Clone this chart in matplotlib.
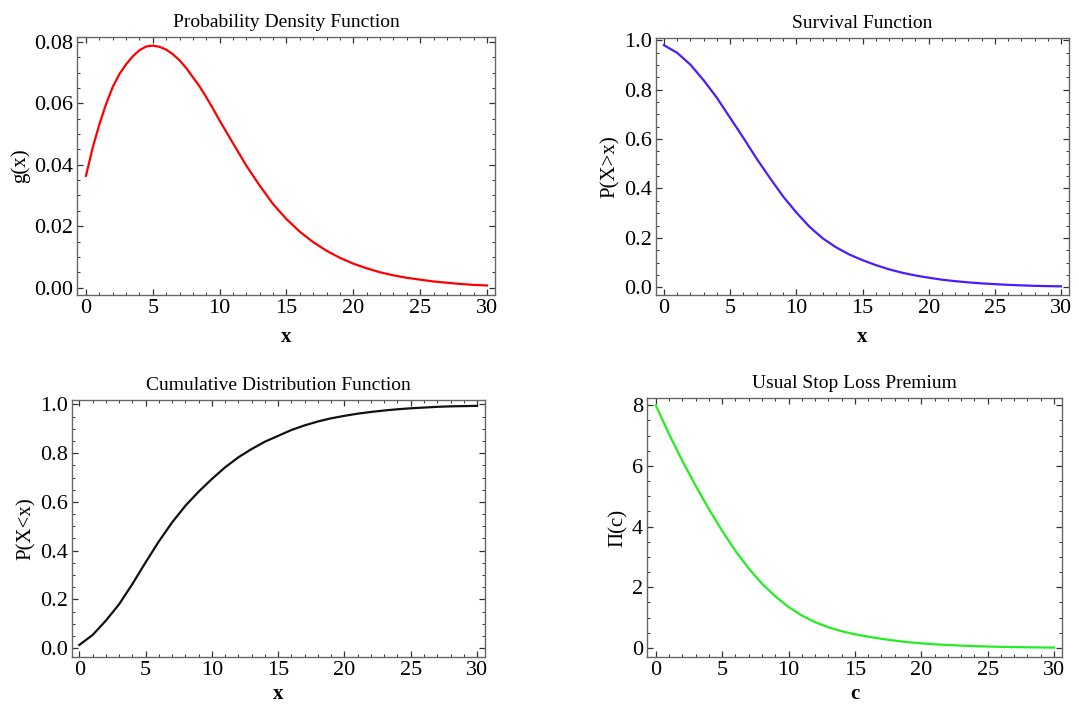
import matplotlib.pyplot as plt
from matplotlib.ticker import MultipleLocator

# Data
x = list(range(31))
# density read more finely around the peak
x_pdf = [0, 0.5, 1, 1.5, 2, 2.5, 3, 3.5, 4, 4.5, 5, 5.5, 6, 6.5, 7, 7.5, 8, 8.5, 9, 9.5,
         10, 11, 12, 13, 14, 15, 16, 17, 18, 19, 20, 21, 22, 23, 24, 25, 26, 27, 28, 29, 30]
pdf = [0.0364, 0.0455, 0.0531, 0.0597, 0.0653, 0.0695, 0.0727, 0.0753, 0.0773, 0.0785,
       0.0788, 0.0784, 0.0775, 0.076, 0.074, 0.0715, 0.0685, 0.0655, 0.062, 0.0583,
       0.0544, 0.047, 0.0397, 0.0332, 0.0272, 0.0223, 0.0182, 0.0148, 0.012, 0.0097,
       0.0078, 0.0063, 0.005, 0.004, 0.0032, 0.0026, 0.002, 0.0016, 0.0012, 0.0009, 0.0007]
survival = [0.98, 0.949, 0.901, 0.838, 0.767, 0.686, 0.605, 0.521, 0.443, 0.368,
            0.303, 0.245, 0.198, 0.162, 0.133, 0.11, 0.09, 0.073, 0.059, 0.048,
            0.039, 0.031, 0.025, 0.02, 0.016, 0.013, 0.01, 0.008, 0.006, 0.005, 0.004]
cdf = [0.0135, 0.054, 0.113, 0.18, 0.263, 0.352, 0.438, 0.516, 0.584, 0.642,
       0.694, 0.742, 0.783, 0.817, 0.847, 0.871, 0.895, 0.914, 0.93, 0.943,
       0.953, 0.962, 0.969, 0.975, 0.98, 0.984, 0.987, 0.99, 0.992, 0.993, 0.994]
stoploss = [8.0, 7.05, 6.17, 5.35, 4.58, 3.86, 3.2, 2.62, 2.12, 1.7,
            1.35, 1.07, 0.85, 0.68, 0.55, 0.45, 0.37, 0.3, 0.24, 0.19,
            0.15, 0.12, 0.095, 0.075, 0.06, 0.045, 0.035, 0.027, 0.02, 0.015, 0.01]

plt.rcParams['font.family'] = ['Liberation Serif', 'DejaVu Serif']

fig = plt.figure(figsize=(10.79, 7.05), dpi=100)

W, H = 1079, 705
def box(l, r, t, b):
    return [l / W, (H - b) / H, (r - l) / W, (b - t) / H]

panels = [
    # position, x, y, colour, title, ylabel, xlabel, ylim, y major, y minor, format, xlim, xlabel pad
    (box(77, 495, 37, 295), x_pdf, pdf, '#ff0000', 'Probability Density Function', 'g(x)', 'x',
     (-0.0024, 0.0816), 0.02, 0.005, '{:.2f}', (-0.67, 30.6), 6),
    (box(656, 1069, 38, 295), x, survival, '#4a1cff', 'Survival Function', 'P(X>x)', 'x',
     (-0.031, 1.009), 0.2, 0.05, '{:.1f}', (-0.6, 30.6), 6),
    (box(72, 485, 400, 657), x, cdf, '#111111', 'Cumulative Distribution Function', 'P(X<x)', 'x',
     (-0.036, 1.018), 0.2, 0.05, '{:.1f}', (-0.55, 30.6), 3),
    (box(647, 1062, 398, 657), x, stoploss, '#22ee22', 'Usual Stop Loss Premium', 'Π(c)', 'c',
     (-0.3, 8.24), 2, 0.5, '{:.0f}', (-0.66, 30.6), 3),
]

for pos, xs, y, color, title, ylab, xlab, ylim, ymaj, ymin, fmt, xlim, xpad in panels:
    ax = fig.add_axes(pos)
    ax.plot(xs, y, color=color, linewidth=1.6)
    ax.set_xlim(*xlim)
    ax.set_ylim(*ylim)
    ax.xaxis.set_major_locator(MultipleLocator(5))
    ax.xaxis.set_minor_locator(MultipleLocator(1))
    ax.yaxis.set_major_locator(MultipleLocator(ymaj))
    ax.yaxis.set_minor_locator(MultipleLocator(ymin))
    ax.yaxis.set_major_formatter(plt.FuncFormatter(lambda v, p, f=fmt: f.format(v)))
    ax.tick_params(which='both', direction='in', top=True, right=True,
                   color='#333333', labelsize=16, pad=3)
    ax.tick_params(which='major', length=4, width=0.9)
    ax.tick_params(which='minor', length=2.2, width=0.7)
    for s in ax.spines.values():
        s.set_color('#666666')
        s.set_linewidth(1.0)
    ax.set_title(title, fontsize=14, pad=7)
    ax.set_ylabel(ylab, fontsize=15, labelpad=3)
    ax.set_xlabel(xlab, fontsize=15, fontweight='bold', labelpad=xpad)

fig.savefig('out.png', dpi=100)
